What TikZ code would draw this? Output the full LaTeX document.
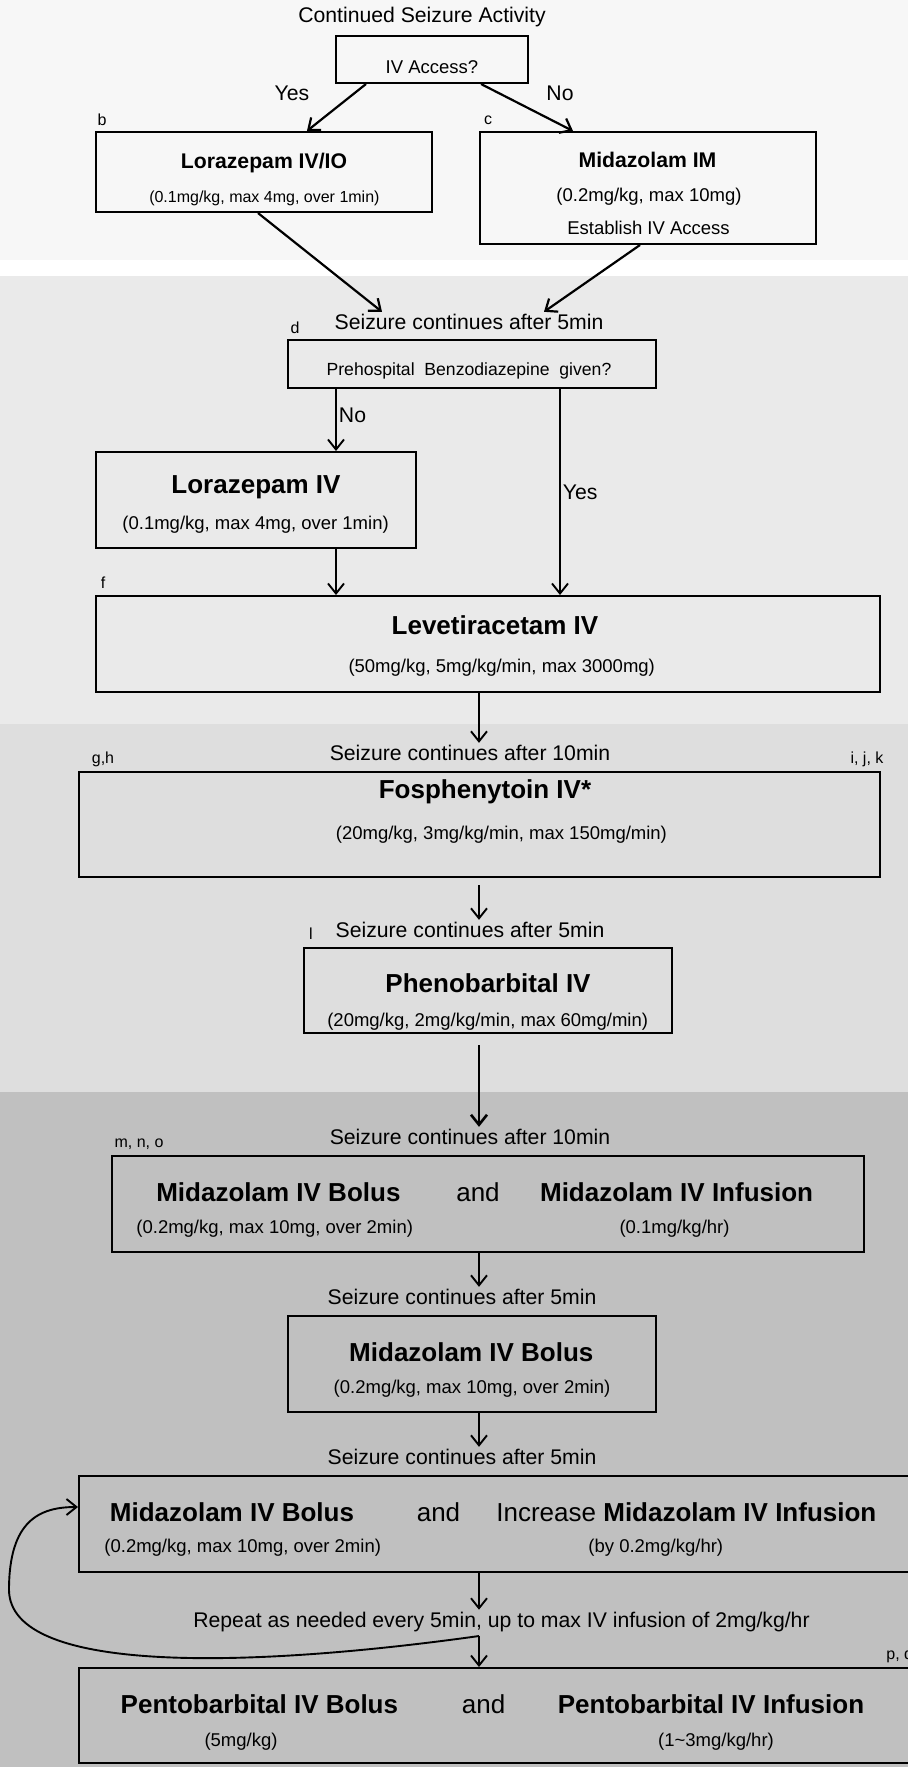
\documentclass[tikz,border=0pt]{standalone}
\usepackage{fontspec}
\setmainfont{Liberation Sans}
\usetikzlibrary{arrows.meta}
\definecolor{bandA}{HTML}{F7F7F7}
\definecolor{bandB}{HTML}{EAEAEA}
\definecolor{bandC}{HTML}{DEDEDE}
\definecolor{bandD}{HTML}{C0C0C0}

\begin{document}
\begin{tikzpicture}[x=0.5pt, y=-0.5pt,
    box/.style={draw, line width=1pt, inner sep=0pt},
    flow/.style={-{Straight Barb[length=5pt,width=8pt]}, line width=0.95pt},
    note/.style={font=\fontsize{10.6}{12}\selectfont, inner sep=1pt},
    drug/.style={font=\fontsize{13}{15}\selectfont\bfseries, inner sep=1pt},
    drugs/.style={font=\fontsize{10.6}{12}\selectfont\bfseries, inner sep=1pt},
    conj/.style={font=\fontsize{13}{15}\selectfont, inner sep=1pt},
    dose/.style={font=\fontsize{9.25}{11}\selectfont, inner sep=1pt},
    doses/.style={font=\fontsize{8}{9.5}\selectfont, inner sep=1pt},
    refl/.style={font=\fontsize{8}{9.5}\selectfont, inner sep=0pt}]
        \useasboundingbox (0,0) rectangle (908,1767);
        \clip (0,0) rectangle (908,1767);
        \fill[white] (0,0) rectangle (908,1767);
        \fill[bandA] (0,0)    rectangle (908,260);
        \fill[bandB] (0,276)  rectangle (908,724);
        \fill[bandC] (0,724)  rectangle (908,1092);
        \fill[bandD] (0,1092) rectangle (908,1767);

        \coordinate (spine) at (479,0);
        \coordinate (nox)   at (336,0);
        \coordinate (yesx)  at (560,0);

        \node[note] (start) at (422,17) {Continued Seizure Activity};
        \node[box, minimum width=96pt, minimum height=23.5pt] (ivq) at (432,59.5) {};
        \node[dose] (ivqt) at (432,67) {IV Access?};
        \node[note] (yes1) at (292,93) {Yes};
        \node[note] (no1)  at (560,93) {No};

        \node[refl] (rb) at (102,120) {b};
        \node[box, minimum width=168.25pt, minimum height=40pt] (lor1) at (263.75,172) {};
        \node[drugs] (lor1t) at (264,163) {Lorazepam IV/IO};
        \node[doses] (lor1d) at (264.4,198) {(0.1mg/kg, max 4mg, over 1min)};

        \node[refl] (rc) at (488,120) {c};
        \node[box, minimum width=168pt, minimum height=56pt] (mid1) at (648,188) {};
        \node[drugs] (mid1t) at (647.5,160) {Midazolam IM};
        \node[dose] (mid1d) at (649,197) {(0.2mg/kg, max 10mg)};
        \node[dose] (mid1e) at (648.5,228) {Establish IV Access};

        \draw[flow, line width=1.1pt] ([xshift=-33pt]ivq.south) -- ([xshift=21.6pt]lor1.north);
        \draw[flow, line width=1.1pt] ([xshift=24.5pt]ivq.south) -- ([xshift=-37.5pt]mid1.north);

        \node[note] (s1) at (469,322) {Seizure continues after 5min};
        \draw[flow, line width=1.1pt] ([xshift=-2.9pt]lor1.south) -- ([xshift=-43.5pt]s1.north);
        \draw[flow, line width=1.1pt] ([xshift=-4pt]mid1.south) -- ([xshift=37.5pt]s1.north);

        \node[refl] (rd) at (295,328) {d};
        \node[box, minimum width=184pt, minimum height=24pt] (pre) at (472,364) {};
        \node[font=\fontsize{8.8}{10.5}\selectfont, inner sep=1pt] (pret) at (469,371) {Prehospital\ \ Benzodiazepine\ \ given?};

        \node[box, minimum width=160.25pt, minimum height=48pt] (lor2) at (255.75,500) {};
        \node[drug] (lor2t) at (256,487) {Lorazepam IV};
        \node[dose] (lor2d) at (255.6,525) {(0.1mg/kg, max 4mg, over 1min)};

        \node[refl] (rf) at (103,583) {f};
        \node[box, minimum width=392.25pt, minimum height=48pt] (lev) at (487.75,644) {};
        \node[drug] (levt) at (495,625) {Levetiracetam IV};
        \node[dose] (levd) at (501.7,668) {(50mg/kg, 5mg/kg/min, max 3000mg)};

        \draw[flow] (pre.south -| nox) -- (lor2.north -| nox) node[pos=0.42, right, note] {No};
        \draw[flow] (pre.south -| yesx) -- (lev.north -| yesx) node[midway, right, note] {Yes};
        \draw[flow] (lor2.south -| nox) -- (lev.north -| nox);

        \node[note] (s2) at (470,753) {Seizure continues after 10min};
        \draw[flow] (lev.south -| spine) -- (s2.north -| spine);

        \node[refl] (rg) at (103,759) {g,h};
        \node[refl] (ri) at (867,759) {i, j, k};
        \node[box, minimum width=400.5pt, minimum height=52.5pt] (fos) at (479.5,824.5) {};
        \node[drug] (fost) at (485,792) {Fosphenytoin IV*};
        \node[dose] (fosd) at (501.4,835) {(20mg/kg, 3mg/kg/min, max 150mg/min)};

        \node[note] (s3) at (470,930) {Seizure continues after 5min};
        \draw[flow, shorten <=3.5pt] (fos.south -| spine) -- (s3.north -| spine);

        \node[refl] (rl) at (311,934) {l};
        \node[box, minimum width=184pt, minimum height=42.5pt] (phe) at (488,990.5) {};
        \node[drug] (phet) at (488,983) {Phenobarbital IV};
        \node[dose] (phed) at (487.7,1022) {(20mg/kg, 2mg/kg/min, max 60mg/min)};

        \node[note] (s4) at (470,1137) {Seizure continues after 10min};
        \draw[flow, line width=1.3pt, shorten <=5.5pt] (phe.south -| spine) -- (s4.north -| spine);

        \node[refl] (rm) at (139,1144) {m, n, o};
        \node[box, minimum width=376pt, minimum height=48pt] (mz1) at (488,1204) {};
        \node[drug] (mz1a) at (278.4,1192) {Midazolam IV Bolus};
        \node[conj] (mz1n) at (478,1192) {and};
        \node[drug] (mz1b) at (676.6,1192) {Midazolam IV Infusion};
        \node[dose] (mz1c) at (274.7,1229) {(0.2mg/kg, max 10mg, over 2min)};
        \node[dose] (mz1d) at (674.5,1229) {(0.1mg/kg/hr)};

        \node[note] (s5) at (462,1297) {Seizure continues after 5min};
        \draw[flow] (mz1.south -| spine) -- (s5.north -| spine);

        \node[box, minimum width=184pt, minimum height=48pt] (mz2) at (472,1364) {};
        \node[drug] (mz2t) at (471.3,1352) {Midazolam IV Bolus};
        \node[dose] (mz2d) at (472,1389) {(0.2mg/kg, max 10mg, over 2min)};

        \node[note] (s6) at (462,1457) {Seizure continues after 5min};
        \draw[flow] (mz2.south -| spine) -- (s6.north -| spine);

        \node[box, minimum width=425.5pt, minimum height=48pt] (mz3) at (504.5,1524) {};
        \node[drug] (mz3a) at (232,1512) {Midazolam IV Bolus};
        \node[conj] (mz3n) at (438.5,1512) {and};
        \node[conj, anchor=west] (mz3b) at (494,1512) {Increase \textbf{Midazolam IV Infusion}};
        \node[dose] (mz3c) at (242.7,1548) {(0.2mg/kg, max 10mg, over 2min)};
        \node[dose] (mz3d) at (655.8,1548) {(by 0.2mg/kg/hr)};

        \node[note] (rep) at (501.5,1622) {Repeat as needed every 5min, up to max IV infusion of 2mg/kg/hr};
        \draw[flow] (mz3.south -| spine) -- (rep.north -| spine);
        \coordinate (turn) at (479,1636);

        \node[refl, anchor=west] (rp) at (886,1657) {p, q};
        \node[box, minimum width=425.5pt, minimum height=47.5pt] (pen) at (504.5,1715.5) {};
        \node[drug] (pena) at (259.4,1704) {Pentobarbital IV Bolus};
        \node[conj] (penn) at (483.6,1704) {and};
        \node[drug] (penb) at (711,1704) {Pentobarbital IV Infusion};
        \node[dose] (penc) at (241,1742) {(5mg/kg)};
        \node[dose] (pend) at (716,1742) {(1\textasciitilde 3mg/kg/hr)};

        \draw[flow] (turn) -- (pen.north -| spine);
        \draw[flow] (turn) .. controls (250,1668) and (10,1675) .. (9,1590)
                           .. controls (9,1520) and (40,1507) .. ([yshift=8.5pt]mz3.west);
      \end{tikzpicture}
\end{document}
